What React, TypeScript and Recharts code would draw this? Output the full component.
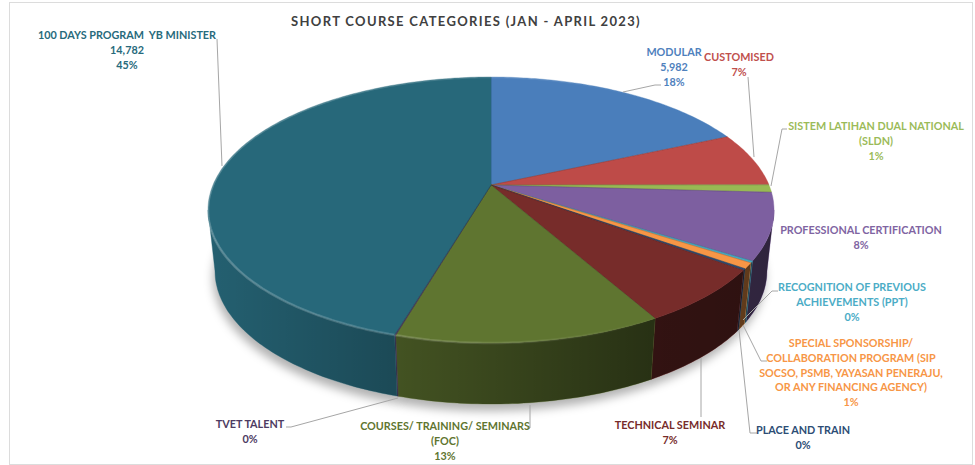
import { Pie, PieChart } from 'recharts';

const TITLE = 'SHORT COURSE CATEGORIES (JAN - APRIL 2023)';

const categories = [
  'MODULAR',
  'CUSTOMISED',
  'SISTEM LATIHAN DUAL NATIONAL (SLDN)',
  'PROFESSIONAL CERTIFICATION',
  'RECOGNITION OF PREVIOUS ACHIEVEMENTS (PPT)',
  'SPECIAL SPONSORSHIP/ COLLABORATION PROGRAM',
  'PLACE AND TRAIN',
  'TECHNICAL SEMINAR',
  'COURSES/ TRAINING/ SEMINARS (FOC)',
  'TVET TALENT',
  '100 DAYS PROGRAM  YB MINISTER',
];

const values = [5982, 2150, 300, 2620, 70, 230, 60, 2190, 4150, 20, 14782];

// only these two slices print their value in the label
const showValue = [true, false, false, false, false, false, false, false, false, false, true];

const labelRows = [
  ['MODULAR'],
  ['CUSTOMISED'],
  ['SISTEM LATIHAN DUAL NATIONAL', '(SLDN)'],
  ['PROFESSIONAL CERTIFICATION'],
  ['RECOGNITION OF PREVIOUS', 'ACHIEVEMENTS (PPT)'],
  ['SPECIAL SPONSORSHIP/', 'COLLABORATION PROGRAM (SIP', 'SOCSO, PSMB, YAYASAN PENERAJU,', 'OR ANY FINANCING AGENCY)'],
  ['PLACE AND TRAIN'],
  ['TECHNICAL SEMINAR'],
  ['COURSES/ TRAINING/ SEMINARS', '(FOC)'],
  ['TVET TALENT'],
  ['100 DAYS PROGRAM  YB MINISTER'],
];

const colors = [
  '#4a7ebb',
  '#be4b48',
  '#98b954',
  '#7d5fa0',
  '#46aac5',
  '#f79646',
  '#2c4d75',
  '#772c2a',
  '#5f7530',
  '#4d3b62',
  '#27687a',
];

const labelColors = [
  '#4f81bd',
  '#c0504d',
  '#9bbb59',
  '#8064a2',
  '#4bacc6',
  '#f79646',
  '#2c4d75',
  '#772c2a',
  '#5f7530',
  '#4d3b62',
  '#276a7c',
];

// where each label sits (centre x, first row y) and its leader line
const labelX = [674, 739, 876, 861, 852, 851, 803, 670, 445, 250, 127];
const labelY = [52, 57, 126, 230, 287, 343, 430, 425, 426, 424, 35];
const leaders: number[][][] = [
  [[623, 92], [655, 85], [661, 85]],
  [[748, 77], [754, 157]],
  [[771, 186], [782, 129], [787, 129]],
  [],
  [[743, 320], [772, 291], [778, 291]],
  [[743, 325], [761, 361], [767, 361]],
  [[739, 330], [750, 433], [757, 433]],
  [[701, 358], [701, 417]],
  [[530, 405], [530, 428], [527, 428]],
  [[398, 398], [291, 427], [286, 427]],
  [[217, 39], [222, 166]],
];

const pieData = categories.map((name, i) => ({ name, value: values[i], fill: colors[i] }));

// 3D look: the flat circle is projected in perspective, so the apex is not in the middle of the ellipse
const RADIUS = 278;
const SQUASH = 0.4615;
const TILT = 0.188;
const DEPTH_Y = 61;
const BOTTOM_SCALE = 0.975;
// angles where the projected rim turns back, the side wall stops there
const WALL_FROM = -10.8;
const WALL_TO = -169.2;

function project(cx: number, cy: number, angle: number) {
  const rad = (angle * Math.PI) / 180;
  const u = Math.cos(rad);
  const v = -Math.sin(rad);
  const w = 1 - TILT * v;
  return { x: cx + (RADIUS * u) / w, y: cy + (RADIUS * SQUASH * v) / w };
}

function lower(cx: number, cy: number, p: { x: number; y: number }) {
  return { x: cx + (p.x - cx) * BOTTOM_SCALE, y: cy + DEPTH_Y + (p.y - cy) };
}

function arcPoints(cx: number, cy: number, from: number, to: number) {
  const steps = Math.max(1, Math.ceil(Math.abs(to - from)));
  const pts = [];
  for (let i = 0; i <= steps; i++) {
    pts.push(project(cx, cy, from + ((to - from) * i) / steps));
  }
  return pts;
}

const toPath = (pts: { x: number; y: number }[]) =>
  pts.map((p, i) => `${i === 0 ? 'M' : 'L'}${p.x.toFixed(1)},${p.y.toFixed(1)}`).join(' ');

function topFace(props: any) {
  const { cx, cy, startAngle, endAngle, fill } = props;
  const edge = arcPoints(cx, cy, startAngle, endAngle);
  const apex = { x: cx, y: cy };
  return (
    <g>
      <path d={`${toPath([apex, ...edge])} Z`} fill={fill} stroke={fill} strokeWidth={0.4} />
      <path d={toPath([edge[0], apex])} stroke="#000" strokeOpacity={0.22} strokeWidth={0.7} />
      <path d={toPath(edge)} fill="none" stroke="url(#rimGlow)" strokeWidth={2.5} />
    </g>
  );
}

function sideWall(props: any) {
  const { cx, cy, startAngle, endAngle, fill } = props;
  // only the front part of the rim can be seen
  const from = Math.min(startAngle, WALL_FROM);
  const to = Math.max(endAngle, WALL_TO);
  if (from <= to) return <g />;
  const edge = arcPoints(cx, cy, from, to);
  const low = edge.map((p) => lower(cx, cy, p)).reverse();
  const d = `${toPath([...edge, ...low])} Z`;
  return (
    <g>
      <path d={d} fill={fill} stroke={fill} strokeWidth={0.4} />
      <path d={d} fill="url(#wallShade)" />
    </g>
  );
}

function dropShadow(props: any) {
  const { cx, cy, startAngle, endAngle } = props;
  const edge = arcPoints(cx, cy, startAngle, endAngle).map((p) => lower(cx, cy, p));
  return (
    <path
      d={`${toPath([{ x: cx, y: cy + DEPTH_Y }, ...edge])} Z`}
      transform="translate(-2 7)"
      fill="#000"
      fillOpacity={0.3}
      style={{ filter: 'blur(5px)' }}
    />
  );
}

function sliceLabel(props: any) {
  const { index, percent, value } = props;
  const rows = [...labelRows[index]];
  if (showValue[index]) rows.push(value.toLocaleString('en-US'));
  rows.push(`${Math.round(percent * 100)}%`);
  const line = leaders[index];
  return (
    <g key={index}>
      {line.length > 0 && (
        <polyline points={line.map((p) => p.join(',')).join(' ')} fill="none" stroke="#a6a6a6" strokeWidth={1} />
      )}
      <text
        x={labelX[index]}
        y={labelY[index]}
        textAnchor="middle"
        fill={labelColors[index]}
        fontFamily="Lato"
        fontWeight={700}
        fontSize={10.8}
      >
        {rows.map((row, i) => (
          <tspan key={i} x={labelX[index]} y={labelY[index] + 4 + i * 14.8} xmlSpace="preserve">
            {row}
          </tspan>
        ))}
      </text>
    </g>
  );
}

export default function App() {
  return (
    <div style={{ position: 'absolute', left: 0, top: 0, width: 975, height: 465, background: '#fff' }}>
      <div
        style={{
          position: 'absolute',
          left: 9,
          top: 2,
          width: 962,
          height: 461,
          border: '1px solid #dcdcdc',
        }}
      />
      <PieChart width={975} height={465} margin={{ top: 0, right: 0, bottom: 0, left: 0 }}>
        <defs>
          <linearGradient id="wallShade" gradientUnits="userSpaceOnUse" x1={209} y1={0} x2={775} y2={0}>
            <stop offset="0" stopColor="#000" stopOpacity={0.08} />
            <stop offset="0.34" stopColor="#000" stopOpacity={0.3} />
            <stop offset="0.78" stopColor="#000" stopOpacity={0.58} />
            <stop offset="1" stopColor="#000" stopOpacity={0.62} />
          </linearGradient>
          <linearGradient id="rimGlow" gradientUnits="userSpaceOnUse" x1={209} y1={0} x2={660} y2={0}>
            <stop offset="0" stopColor="#fff" stopOpacity={0.22} />
            <stop offset="0.6" stopColor="#fff" stopOpacity={0.12} />
            <stop offset="1" stopColor="#fff" stopOpacity={0} />
          </linearGradient>
        </defs>
        <text
          x={466}
          y={26}
          textAnchor="middle"
          fill="#404040"
          fontFamily="Lato"
          fontWeight={700}
          fontSize={13}
          letterSpacing={1.33}
        >
          {TITLE}
        </text>
        <Pie
          data={pieData}
          dataKey="value"
          nameKey="name"
          cx={491}
          cy={185}
          outerRadius={RADIUS}
          startAngle={90}
          endAngle={-270}
          shape={dropShadow}
          isAnimationActive={false}
        />
        <Pie
          data={pieData}
          dataKey="value"
          nameKey="name"
          cx={491}
          cy={185}
          outerRadius={RADIUS}
          startAngle={90}
          endAngle={-270}
          shape={sideWall}
          isAnimationActive={false}
        />
        <Pie
          data={pieData}
          dataKey="value"
          nameKey="name"
          cx={491}
          cy={185}
          outerRadius={RADIUS}
          startAngle={90}
          endAngle={-270}
          shape={topFace}
          label={sliceLabel}
          labelLine={false}
          isAnimationActive={false}
        />
      </PieChart>
    </div>
  );
}
